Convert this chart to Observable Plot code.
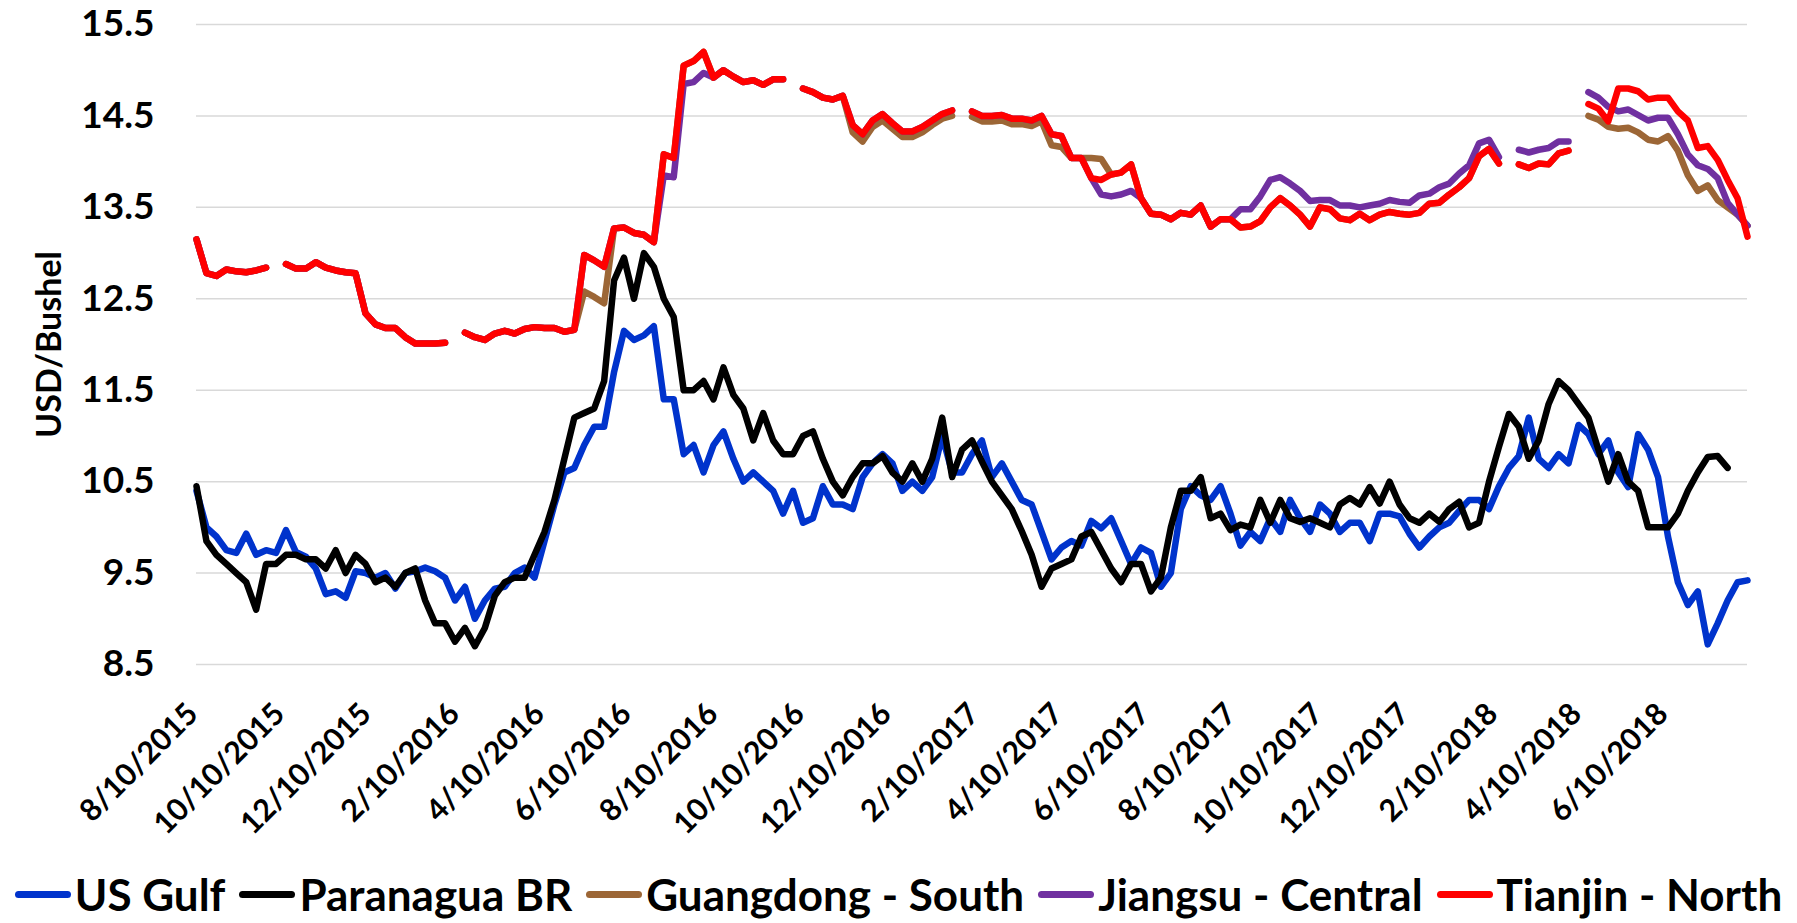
<!DOCTYPE html>
<html><head><meta charset="utf-8">
<script src="https://cdn.jsdelivr.net/npm/d3@7"></script>
<script src="https://cdn.jsdelivr.net/npm/@observablehq/plot@0.6"></script>
<style>
body{margin:0;background:#fff;width:1797px;height:923px;overflow:hidden;position:relative;font-family:Lato,sans-serif;}
#chart{position:absolute;left:0;top:0}
#legend{position:absolute;left:0;top:868px;width:1797px;display:flex;justify-content:center;align-items:center;font-weight:bold;font-size:44px;line-height:52px;color:#000;white-space:nowrap}
.item{display:flex;align-items:center;margin:0 7px}
.sw{display:inline-block;width:56px;height:7px;border-radius:4px;margin-right:4px}
</style></head><body><div id="chart"></div><div id="legend"></div>
<script>
const dates = [
"2015-08-10","2015-08-17","2015-08-24","2015-08-31","2015-09-07","2015-09-14","2015-09-21","2015-09-28","2015-10-05","2015-10-12",
"2015-10-19","2015-10-26","2015-11-02","2015-11-09","2015-11-16","2015-11-23","2015-11-30","2015-12-07","2015-12-14","2015-12-21",
"2015-12-28","2016-01-04","2016-01-11","2016-01-18","2016-01-25","2016-02-01","2016-02-08","2016-02-15","2016-02-22","2016-02-29",
"2016-03-07","2016-03-14","2016-03-21","2016-03-28","2016-04-04","2016-04-11","2016-04-18","2016-04-25","2016-05-02","2016-05-09",
"2016-05-16","2016-05-23","2016-05-30","2016-06-06","2016-06-13","2016-06-20","2016-06-27","2016-07-04","2016-07-11","2016-07-18",
"2016-07-25","2016-08-01","2016-08-08","2016-08-15","2016-08-22","2016-08-29","2016-09-05","2016-09-12","2016-09-19","2016-09-26",
"2016-10-03","2016-10-10","2016-10-17","2016-10-24","2016-10-31","2016-11-07","2016-11-14","2016-11-21","2016-11-28","2016-12-05",
"2016-12-12","2016-12-19","2016-12-26","2017-01-02","2017-01-09","2017-01-16","2017-01-23","2017-01-30","2017-02-06","2017-02-13",
"2017-02-20","2017-02-27","2017-03-06","2017-03-13","2017-03-20","2017-03-27","2017-04-03","2017-04-10","2017-04-17","2017-04-24",
"2017-05-01","2017-05-08","2017-05-15","2017-05-22","2017-05-29","2017-06-05","2017-06-12","2017-06-19","2017-06-26","2017-07-03",
"2017-07-10","2017-07-17","2017-07-24","2017-07-31","2017-08-07","2017-08-14","2017-08-21","2017-08-28","2017-09-04","2017-09-11",
"2017-09-18","2017-09-25","2017-10-02","2017-10-09","2017-10-16","2017-10-23","2017-10-30","2017-11-06","2017-11-13","2017-11-20",
"2017-11-27","2017-12-04","2017-12-11","2017-12-18","2017-12-25","2018-01-01","2018-01-08","2018-01-15","2018-01-22","2018-01-29",
"2018-02-05","2018-02-12","2018-02-19","2018-02-26","2018-03-05","2018-03-12","2018-03-19","2018-03-26","2018-04-02","2018-04-09",
"2018-04-16","2018-04-23","2018-04-30","2018-05-07","2018-05-14","2018-05-21","2018-05-28","2018-06-04","2018-06-11","2018-06-18",
"2018-06-25","2018-07-02","2018-07-09","2018-07-16","2018-07-23","2018-07-30","2018-08-06"];

const usGulf = [
10.40,10.00,9.90,9.75,9.72,9.93,9.70,9.75,9.72,9.97,
9.73,9.68,9.55,9.27,9.30,9.23,9.52,9.50,9.45,9.50,
9.33,9.50,9.52,9.56,9.52,9.45,9.20,9.35,9.00,9.20,
9.33,9.35,9.50,9.56,9.45,9.85,10.25,10.60,10.65,10.90,
11.10,11.10,11.70,12.15,12.05,12.10,12.20,11.40,11.40,10.80,
10.90,10.60,10.90,11.05,10.75,10.50,10.60,10.50,10.40,10.15,
10.40,10.05,10.10,10.45,10.25,10.25,10.20,10.55,10.70,10.80,
10.70,10.40,10.50,10.40,10.55,11.00,10.60,10.60,10.80,10.95,
10.55,10.70,10.50,10.30,10.25,9.95,9.65,9.78,9.85,9.80,
10.07,9.99,10.10,9.85,9.60,9.78,9.72,9.35,9.50,10.20,
10.45,10.35,10.30,10.45,10.15,9.80,9.95,9.85,10.10,9.95,
10.30,10.10,9.95,10.25,10.15,9.95,10.05,10.05,9.85,10.15,
10.15,10.12,9.93,9.78,9.90,10.00,10.05,10.18,10.30,10.30,
10.20,10.45,10.65,10.78,11.20,10.75,10.65,10.80,10.70,11.12,
11.02,10.80,10.95,10.60,10.44,11.02,10.85,10.55,9.90,9.40,
9.15,9.30,8.72,8.95,9.20,9.40,9.42];

const paranagua = [
10.45,9.85,9.70,9.60,9.50,9.40,9.10,9.60,9.60,9.70,
9.70,9.65,9.65,9.55,9.75,9.50,9.70,9.60,9.40,9.45,
9.35,9.50,9.55,9.20,8.95,8.95,8.75,8.90,8.70,8.90,
9.25,9.40,9.45,9.45,9.70,9.95,10.30,10.75,11.20,11.25,
11.30,11.60,12.70,12.95,12.50,13.00,12.85,12.50,12.30,11.50,
11.50,11.60,11.40,11.75,11.45,11.30,10.95,11.25,10.95,10.80,
10.80,11.00,11.05,10.75,10.50,10.35,10.55,10.70,10.70,10.78,
10.60,10.50,10.70,10.50,10.75,11.20,10.55,10.85,10.95,10.72,
10.50,10.35,10.20,9.96,9.70,9.35,9.55,9.60,9.65,9.90,
9.95,9.75,9.55,9.40,9.60,9.60,9.30,9.45,10.00,10.40,
10.40,10.55,10.10,10.15,9.97,10.03,10.00,10.30,10.05,10.30,
10.10,10.06,10.10,10.05,10.00,10.25,10.32,10.25,10.44,10.26,
10.50,10.25,10.10,10.05,10.15,10.06,10.20,10.28,10.00,10.05,
10.50,10.88,11.24,11.10,10.75,10.95,11.35,11.60,11.50,11.35,
11.20,10.85,10.50,10.80,10.50,10.40,10.00,10.00,10.00,10.15,
10.40,10.60,10.77,10.78,10.65,null,null];

const guangdong = [
13.15,12.78,12.75,12.82,12.80,12.79,12.81,12.84,null,12.88,
12.83,12.83,12.90,12.84,12.81,12.79,12.78,12.34,12.22,12.18,
12.18,12.08,12.01,12.01,12.01,12.02,null,12.13,12.08,12.05,
12.12,12.15,12.12,12.17,12.19,12.18,12.18,12.14,12.16,12.58,
12.52,12.45,13.27,13.28,13.22,13.20,13.12,14.08,14.04,15.05,
15.10,15.20,14.92,15.00,14.93,14.87,14.89,14.84,14.90,14.90,
null,14.80,14.76,14.70,14.68,14.72,14.32,14.22,14.38,14.45,
14.36,14.27,14.27,14.32,14.40,14.47,14.50,null,14.49,14.44,
14.44,14.45,14.41,14.41,14.39,14.44,14.18,14.16,14.04,14.04,
14.04,14.03,13.86,13.88,13.97,13.60,13.43,13.42,13.37,13.44,
13.42,13.52,13.29,13.37,13.37,13.28,13.29,13.35,13.50,13.60,
13.52,13.42,13.29,13.50,13.48,13.38,13.36,13.43,13.36,13.42,
13.45,13.43,13.42,13.44,13.54,13.55,13.64,13.72,13.82,14.06,
14.14,13.98,null,13.97,13.93,13.98,13.97,14.09,14.12,null,
14.50,14.46,14.38,14.36,14.37,14.32,14.24,14.22,14.28,14.12,
13.85,13.68,13.74,13.58,13.50,13.42,13.30];

const jiangsu = [
13.15,12.78,12.75,12.82,12.80,12.79,12.81,12.84,null,12.88,
12.83,12.83,12.90,12.84,12.81,12.79,12.78,12.34,12.22,12.18,
12.18,12.08,12.01,12.01,12.01,12.02,null,12.13,12.08,12.05,
12.12,12.15,12.12,12.17,12.19,12.18,12.18,12.14,12.16,12.98,
12.92,12.85,13.27,13.28,13.22,13.20,13.12,13.85,13.83,14.85,
14.87,14.97,14.92,15.00,14.93,14.87,14.89,14.84,14.90,14.90,
null,14.80,14.76,14.70,14.68,14.72,14.40,14.30,14.45,14.52,
14.42,14.33,14.33,14.38,14.45,14.52,14.56,null,14.55,14.50,
14.50,14.51,14.47,14.47,14.45,14.50,14.30,14.28,14.04,14.04,
13.82,13.64,13.62,13.64,13.68,13.60,13.43,13.42,13.37,13.44,
13.42,13.52,13.29,13.37,13.37,13.48,13.48,13.62,13.80,13.83,
13.76,13.68,13.57,13.58,13.58,13.52,13.52,13.50,13.52,13.54,
13.58,13.56,13.55,13.63,13.65,13.72,13.76,13.87,13.96,14.20,
14.24,14.05,null,14.13,14.10,14.13,14.15,14.22,14.22,null,
14.76,14.70,14.60,14.55,14.57,14.51,14.45,14.48,14.48,14.30,
14.08,13.96,13.92,13.82,13.55,13.42,13.30];

const tianjin = [
13.15,12.78,12.75,12.82,12.80,12.79,12.81,12.84,null,12.88,
12.83,12.83,12.90,12.84,12.81,12.79,12.78,12.34,12.22,12.18,
12.18,12.08,12.01,12.01,12.01,12.02,null,12.13,12.08,12.05,
12.12,12.15,12.12,12.17,12.19,12.18,12.18,12.14,12.16,12.98,
12.92,12.85,13.27,13.28,13.22,13.20,13.12,14.08,14.04,15.05,
15.10,15.20,14.92,15.00,14.93,14.87,14.89,14.84,14.90,14.90,
null,14.80,14.76,14.70,14.68,14.72,14.40,14.30,14.45,14.52,
14.42,14.33,14.33,14.38,14.45,14.52,14.56,null,14.55,14.50,
14.50,14.51,14.47,14.47,14.45,14.50,14.30,14.28,14.04,14.04,
13.82,13.80,13.86,13.88,13.97,13.60,13.43,13.42,13.37,13.44,
13.42,13.52,13.29,13.37,13.37,13.28,13.29,13.35,13.50,13.60,
13.52,13.42,13.29,13.50,13.48,13.38,13.36,13.43,13.36,13.42,
13.45,13.43,13.42,13.44,13.54,13.55,13.64,13.72,13.82,14.06,
14.14,13.98,null,13.97,13.93,13.98,13.97,14.09,14.12,null,
14.63,14.58,14.44,14.80,14.80,14.77,14.68,14.70,14.70,14.55,
14.45,14.15,14.17,14.02,13.80,13.60,13.18];

const seriesNames = ["US Gulf","Paranagua BR","Guangdong - South","Jiangsu - Central","Tianjin - North"];
const seriesColors = ["#0033CC","#000000","#9C6636","#7030A0","#FF0000"];
const yTicks = [8.5,9.5,10.5,11.5,12.5,13.5,14.5,15.5];
const xTickLabels = ["8/10/2015","10/10/2015","12/10/2015","2/10/2016","4/10/2016","6/10/2016","8/10/2016","10/10/2016","12/10/2016",
"2/10/2017","4/10/2017","6/10/2017","8/10/2017","10/10/2017","12/10/2017","2/10/2018","4/10/2018","6/10/2018"];
const xStart = "2015-08-10", xEnd = "2018-08-06";
const yTitle = "USD/Bushel";

const parseISO = d3.utcParse("%Y-%m-%d");
const parseMDY = d3.utcParse("%m/%d/%Y");
const fmtMDY = d3.utcFormat("%-m/%-d/%Y");
const dateObjs = dates.map(parseISO);
const xTicks = xTickLabels.map(parseMDY);
const seriesValues = [usGulf, paranagua, guangdong, jiangsu, tianjin];

const marks = [Plot.gridY(yTicks, {stroke:"#d9d9d9", strokeOpacity:1, strokeWidth:1.5})];
seriesValues.forEach((vals, k) => {
  const rows = dateObjs.map((d, i) => ({date: d, value: vals[i], series: seriesNames[k]}));
  marks.push(Plot.lineY(rows, {x:"date", y:"value", stroke: seriesColors[k], strokeWidth:6.5, strokeLinejoin:"round", strokeLinecap:"round"}));
});
marks.push(Plot.axisY(yTicks, {tickSize:0, tickPadding:42, tickFormat: d => d.toFixed(1), fontSize:37, fontWeight:"bold", label:null}));
marks.push(Plot.axisX(xTicks, {tickSize:0, tickRotate:-45, tickPadding:36, dx:-12, textAnchor:"end", lineAnchor:"top", tickFormat: fmtMDY, fontSize:30.5, fontWeight:"bold", label:null}));
marks.push(Plot.text([yTitle], {text: d => d, frameAnchor:"left", textAnchor:"middle", lineAnchor:"middle", rotate:-90, dx:-146, fontSize:34, fontWeight:"bold"}));

const chart = Plot.plot({
  width:1797, height:862,
  marginLeft:196, marginRight:50, marginTop:24, marginBottom:198,
  style:{fontFamily:"Lato, sans-serif", fontWeight:"bold", color:"#000", background:"#fff"},
  x:{type:"utc", domain:[parseISO(xStart), parseISO(xEnd)]},
  y:{domain:[8.5,15.5]},
  marks
});
document.getElementById("chart").appendChild(chart);

const legend = document.getElementById("legend");
seriesNames.forEach((n, k) => {
  const it = document.createElement("div"); it.className = "item";
  const sw = document.createElement("span"); sw.className = "sw"; sw.style.background = seriesColors[k];
  const tx = document.createElement("span"); tx.textContent = n;
  it.appendChild(sw); it.appendChild(tx); legend.appendChild(it);
});
</script></body></html>
